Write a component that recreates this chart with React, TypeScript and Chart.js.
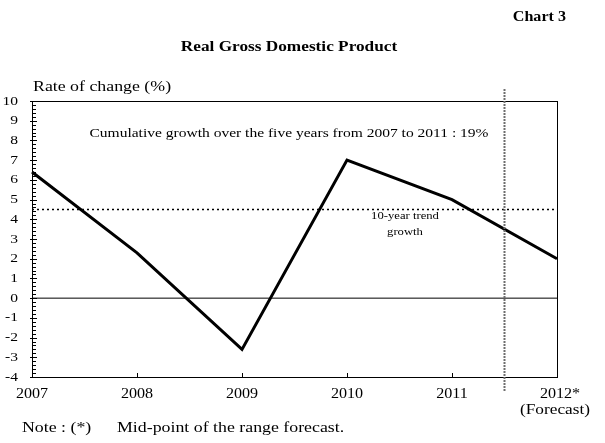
import { useEffect, useRef } from 'react';
import { Chart, registerables } from 'chart.js';

Chart.register(...registerables);

const years = ['2007', '2008', '2009', '2010', '2011', '2012*'];
const yearSubLabels = ['', '', '', '', '', '(Forecast)'];
const gdpGrowth = [6.4, 2.3, -2.6, 7.0, 5.0, 2.0];
const trendGrowth = [4.5, 4.5, 4.5, 4.5, 4.5, 4.5];
const zeroLine = [0, 0, 0, 0, 0, 0];
const yTicks = [-4, -3, -2, -1, 0, 1, 2, 3, 4, 5, 6, 7, 8, 9, 10];
const minorPerUnit = 5;

const serif = '"Liberation Serif", "Times New Roman", serif';
const stretch = 1.15;

// canvas text with the slight horizontal stretch seen in the original
function drawText(ctx, s, x, y, font, align = 'center') {
    ctx.save();
    ctx.font = font;
    ctx.fillStyle = '#000';
    ctx.textBaseline = 'middle';
    ctx.textAlign = align;
    ctx.translate(x, y);
    ctx.scale(stretch, 1);
    ctx.fillText(s, 0, 0);
    ctx.restore();
}

const framePlugin = {
    id: 'gdpFrame',
    afterDatasetsDraw(chart) {
        const { ctx, chartArea } = chart;
        const { left, right, top, bottom } = chartArea;
        const xs = chart.scales.x;
        const ys = chart.scales.y;

        ctx.save();
        ctx.strokeStyle = '#000';
        ctx.lineWidth = 1;
        ctx.strokeRect(left + 0.5, top + 0.5, right - left, bottom - top);

        // y ticks: major crossing the axis, minor inside
        ctx.beginPath();
        yTicks.forEach((v, i) => {
            const py = Math.round(ys.getPixelForValue(v)) + 0.5;
            ctx.moveTo(left - 2, py);
            ctx.lineTo(left + 5, py);
            if (i < yTicks.length - 1) {
                for (let k = 1; k < minorPerUnit; k++) {
                    const my = Math.round(ys.getPixelForValue(v + k / minorPerUnit)) + 0.5;
                    ctx.moveTo(left, my);
                    ctx.lineTo(left + 4, my);
                }
            }
        });
        // x ticks inward
        years.forEach((_, i) => {
            const px = Math.round(xs.getPixelForValue(i)) + 0.5;
            ctx.moveTo(px, bottom);
            ctx.lineTo(px, bottom - 4);
        });
        ctx.stroke();

        // forecast divider between 2011 and 2012
        const dx = (xs.getPixelForValue(4) + xs.getPixelForValue(5)) / 2;
        ctx.strokeStyle = '#6e6e6e';
        ctx.lineWidth = 2;
        ctx.setLineDash([2, 1]);
        ctx.beginPath();
        ctx.moveTo(dx, top - 12);
        ctx.lineTo(dx, bottom + 15);
        ctx.stroke();
        ctx.restore();

        yTicks.forEach((v) => {
            drawText(ctx, String(v), left - 14, ys.getPixelForValue(v), '13.5px ' + serif, 'right');
        });
        years.forEach((y, i) => {
            const px = xs.getPixelForValue(i);
            drawText(ctx, y, px + (y.endsWith('*') ? 3 : 0), bottom + 17, '14px ' + serif);
            if (yearSubLabels[i]) drawText(ctx, yearSubLabels[i], px - 2, bottom + 33, '15px ' + serif);
        });

        drawText(ctx, 'Chart 3', 566, 17, 'bold 14px ' + serif, 'right');
        drawText(ctx, 'Real Gross Domestic Product', 289, 47, 'bold 15px ' + serif);
        drawText(ctx, 'Rate of change (%)', 33, 87, '15.5px ' + serif, 'left');
        drawText(ctx, 'Cumulative growth over the five years from 2007 to 2011 : 19%', 289, 133, '13.5px ' + serif);
        drawText(ctx, '10-year trend', 405, 216, '11px ' + serif);
        drawText(ctx, 'growth', 405, 232, '11px ' + serif);
        drawText(ctx, 'Note : (*)', 22, 428, '15.5px ' + serif, 'left');
        drawText(ctx, 'Mid-point of the range forecast.', 117, 428, '15.5px ' + serif, 'left');
    },
};

export default function App() {
    const canvasRef = useRef(null);

    useEffect(() => {
        const chart = new Chart(canvasRef.current, {
            type: 'line',
            data: {
                labels: years,
                datasets: [
                    {
                        data: gdpGrowth,
                        borderColor: '#000',
                        borderWidth: 3,
                        pointRadius: 0,
                        tension: 0,
                    },
                    {
                        data: trendGrowth,
                        borderColor: '#000',
                        borderWidth: 1.5,
                        borderDash: [2, 3],
                        pointRadius: 0,
                    },
                    {
                        data: zeroLine,
                        borderColor: '#000',
                        borderWidth: 1,
                        pointRadius: 0,
                    },
                ],
            },
            options: {
                responsive: false,
                animation: false,
                layout: {
                    padding: { left: 32, right: 48, top: 101, bottom: 66 },
                },
                plugins: {
                    legend: { display: false },
                    tooltip: { enabled: false },
                },
                scales: {
                    x: { type: 'category', offset: false, display: false },
                    y: { min: -4, max: 10, display: false },
                },
            },
            plugins: [framePlugin],
        });

        return () => {
            chart.destroy();
        };
    }, []);

    return (
        <div style={{ position: 'fixed', left: 0, top: 0, width: 605, height: 443, background: '#fff' }}>
            <canvas ref={canvasRef} width={605} height={443} />
        </div>
    );
}
